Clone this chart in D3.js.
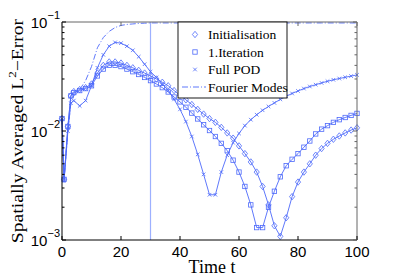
<!DOCTYPE html>
<html>
<head>
<meta charset="utf-8">
<script src="https://cdn.jsdelivr.net/npm/d3@7"></script>
<style>
  body { margin: 0; background: #fff; }
  svg { display: block; }
  .tick-label { font-family: "Liberation Sans", Arial, sans-serif; font-size: 15px; }
  .serif { font-family: "Liberation Serif", "Times New Roman", serif; }
</style>
</head>
<body>
<div id="app"></div>
<script>
// time samples
const times = [0, 0.7, 2, 3, 4, 6, 8, 10, 12, 14, 16, 18, 20, 22, 24, 26, 28, 30, 32, 34, 36, 38, 40, 42, 44, 46, 48, 50,
  52, 54, 56, 58, 60, 62, 64, 66, 68, 70, 72, 74, 76, 78, 80, 82, 84, 86, 88, 90, 92, 94, 96, 98, 100]

const initialisation = [0.013, 0.0036, 0.011, 0.021, 0.023, 0.024, 0.025, 0.027, 0.034, 0.040, 0.043, 0.043, 0.042, 0.040, 0.038, 0.036, 0.034, 0.032,
  0.030, 0.028, 0.026, 0.0235, 0.0213, 0.0193, 0.0175, 0.0158, 0.0143, 0.0130, 0.0120, 0.0108, 0.0096, 0.0086, 0.0073, 0.0062, 0.0052, 0.0042,
  0.0031, 0.0021, 0.00135, 0.00108, 0.0016, 0.0025, 0.0034, 0.0042, 0.0050, 0.0060, 0.0069, 0.0077, 0.0084, 0.0090, 0.0096, 0.0102, 0.0107]

const iteration1 = [0.013, 0.0036, 0.011, 0.021, 0.0225, 0.0235, 0.0245, 0.026, 0.032, 0.037, 0.040, 0.040, 0.039, 0.037, 0.035, 0.033, 0.031, 0.029,
  0.027, 0.025, 0.0228, 0.0205, 0.0185, 0.0165, 0.0146, 0.0129, 0.0114, 0.0101, 0.0089, 0.0077, 0.0066, 0.0054, 0.0042, 0.0031, 0.0021, 0.0013,
  0.0013, 0.0020, 0.0028, 0.0038, 0.0048, 0.0055, 0.0062, 0.0071, 0.0081, 0.0094, 0.0104, 0.0112, 0.0120, 0.0127, 0.0133, 0.0139, 0.0145]

const fullPOD = [0.013, 0.0035, 0.010, 0.018, 0.019, 0.017, 0.019, 0.026, 0.038, 0.050, 0.060, 0.065, 0.064, 0.060, 0.055, 0.048, 0.041, 0.035,
  0.031, 0.027, 0.0235, 0.0195, 0.0158, 0.0122, 0.0089, 0.0061, 0.0040, 0.0026, 0.0026, 0.0042, 0.0060, 0.0078, 0.0095, 0.0112, 0.0127, 0.0141,
  0.0155, 0.0168, 0.0181, 0.0195, 0.0208, 0.0221, 0.0233, 0.0245, 0.0256, 0.0266, 0.0276, 0.0286, 0.0295, 0.0303, 0.0311, 0.0319, 0.0327]

const fourierModes = [0.013, 0.0036, 0.010, 0.018, 0.021, 0.024, 0.029, 0.039, 0.058, 0.072, 0.082, 0.089, 0.093, 0.095, 0.096, 0.097, 0.0975, 0.098,
  0.098, 0.098, 0.098, 0.098, 0.098, 0.098, 0.098, 0.098, 0.098, 0.098, 0.098, 0.098, 0.098, 0.098, 0.098, 0.098, 0.098, 0.098,
  0.098, 0.098, 0.098, 0.098, 0.098, 0.098, 0.098, 0.098, 0.098, 0.098, 0.098, 0.098, 0.098, 0.098, 0.098, 0.098, 0.098]

const seriesNames = ['Initialisation', '1.Iteration', 'Full POD', 'Fourier Modes']
const xTicks = [0, 20, 40, 60, 80, 100]
const yTickExps = [-1, -2, -3]
const markerTime = 30

const size = { width: 395, height: 278 }
const margin = { top: 22, right: 38, bottom: 38, left: 62 }
const blue = '#4d69fa'

const svg = d3.select('#app').append('svg')
  .attr('width', size.width)
  .attr('height', size.height)

const x = d3.scaleLinear().domain([0, 100]).range([margin.left, size.width - margin.right])
const y = d3.scaleLog().domain([1e-3, 1e-1]).range([size.height - margin.bottom, margin.top])

const plot = svg.append('g')

// vertical line at t = 30
plot.append('line')
  .attr('x1', x(markerTime)).attr('x2', x(markerTime))
  .attr('y1', y(1e-3)).attr('y2', y(1e-1))
  .attr('stroke', '#9db0ff').attr('stroke-width', 1.2)

const line = d3.line().x(d => x(d[0])).y(d => y(d[1]))

const series = [
  { name: seriesNames[0], values: initialisation, marker: 'diamond' },
  { name: seriesNames[1], values: iteration1, marker: 'square' },
  { name: seriesNames[2], values: fullPOD, marker: 'cross' },
  { name: seriesNames[3], values: fourierModes, marker: null, dash: '6,2,1,2' }
]

function drawMarker(g, type, cx, cy) {
  if (type === 'diamond') {
    g.append('path').attr('d', `M${cx},${cy - 3.2}L${cx + 2.6},${cy}L${cx},${cy + 3.2}L${cx - 2.6},${cy}Z`)
      .attr('fill', 'none').attr('stroke', blue).attr('stroke-width', 0.8)
  } else if (type === 'square') {
    g.append('rect').attr('x', cx - 2.2).attr('y', cy - 2.2).attr('width', 4.4).attr('height', 4.4)
      .attr('fill', 'none').attr('stroke', blue).attr('stroke-width', 0.8)
  } else if (type === 'cross') {
    g.append('path').attr('d', `M${cx - 1.8},${cy - 1.8}L${cx + 1.8},${cy + 1.8}M${cx - 1.8},${cy + 1.8}L${cx + 1.8},${cy - 1.8}`)
      .attr('stroke', blue).attr('stroke-width', 0.8)
  }
}

series.forEach(s => {
  const pts = times.map((t, i) => [t, s.values[i]])
  plot.append('path')
    .datum(pts)
    .attr('d', line)
    .attr('fill', 'none')
    .attr('stroke', blue)
    .attr('stroke-width', 0.9)
    .attr('stroke-dasharray', s.dash || null)
  if (s.marker) {
    const mg = plot.append('g')
    pts.forEach(p => drawMarker(mg, s.marker, x(p[0]), y(p[1])))
  }
})

// axes box
const x0 = x(0), x1 = x(100), y0 = y(1e-3), y1 = y(1e-1)
svg.append('line').attr('x1', x0).attr('x2', x1).attr('y1', y1).attr('y2', y1).attr('stroke', '#666')
svg.append('line').attr('x1', x1).attr('x2', x1).attr('y1', y0).attr('y2', y1).attr('stroke', '#666')
svg.append('line').attr('x1', x0).attr('x2', x1).attr('y1', y0).attr('y2', y0).attr('stroke', '#000')
svg.append('line').attr('x1', x0).attr('x2', x0).attr('y1', y0).attr('y2', y1).attr('stroke', '#000')

// x ticks (inside, top and bottom)
xTicks.forEach(t => {
  svg.append('line').attr('x1', x(t)).attr('x2', x(t)).attr('y1', y0).attr('y2', y0 - 4).attr('stroke', '#000')
  svg.append('line').attr('x1', x(t)).attr('x2', x(t)).attr('y1', y1).attr('y2', y1 + 4).attr('stroke', '#666')
  svg.append('text').attr('class', 'tick-label')
    .attr('x', x(t)).attr('y', y0 + 17)
    .attr('text-anchor', 'middle')
    .text(t)
})

// y ticks with minor log ticks on left and right
const minorVals = []
yTickExps.slice(1).forEach(e => { for (let k = 1; k < 10; k++) minorVals.push(k * Math.pow(10, e)) })
minorVals.push(0.1)
minorVals.forEach(v => {
  const major = Math.abs(Math.log10(v) - Math.round(Math.log10(v))) < 1e-9
  const len = major ? 4 : 2.5
  svg.append('line').attr('x1', x0).attr('x2', x0 + len).attr('y1', y(v)).attr('y2', y(v)).attr('stroke', '#000')
  svg.append('line').attr('x1', x1).attr('x2', x1 - len).attr('y1', y(v)).attr('y2', y(v)).attr('stroke', '#666')
})

yTickExps.forEach(e => {
  const t = svg.append('text').attr('class', 'tick-label')
    .attr('x', x0 - 2).attr('y', y(Math.pow(10, e)) + 5.5)
    .attr('text-anchor', 'end')
  t.append('tspan').text('10')
  t.append('tspan').attr('dy', -8.5).attr('font-size', 11).text('\u2212' + Math.abs(e))
})

// axis titles
svg.append('text').attr('class', 'serif')
  .attr('x', 212).attr('y', 273)
  .attr('text-anchor', 'middle')
  .attr('font-size', 18)
  .text('Time t')

const yl = svg.append('text').attr('class', 'serif')
  .attr('transform', `translate(23,${(y0 + y1) / 2}) rotate(-90) scale(1.19,1)`)
  .attr('text-anchor', 'middle')
  .attr('font-size', 16.5)
yl.append('tspan').text('Spatially Averaged L')
yl.append('tspan').attr('dy', -7).attr('font-size', 11).text('2')
yl.append('tspan').attr('dy', 7).text('\u2212Error')

// legend
const legend = svg.append('g').attr('transform', 'translate(178,22)')
legend.append('rect').attr('width', 109).attr('height', 76)
  .attr('fill', '#fff').attr('stroke', '#000').attr('stroke-width', 0.9)

series.forEach((s, i) => {
  const ly = 12.5 + i * 17.5
  if (s.marker) {
    drawMarker(legend, s.marker, 17, ly)
  } else {
    legend.append('line').attr('x1', 4).attr('x2', 28).attr('y1', ly).attr('y2', ly)
      .attr('stroke', blue).attr('stroke-width', 0.9).attr('stroke-dasharray', s.dash)
  }
  legend.append('text').attr('class', 'serif')
    .attr('x', 30).attr('y', ly + 4.5)
    .attr('font-size', 13.5)
    .text(s.name)
})
</script>
</body>
</html>
